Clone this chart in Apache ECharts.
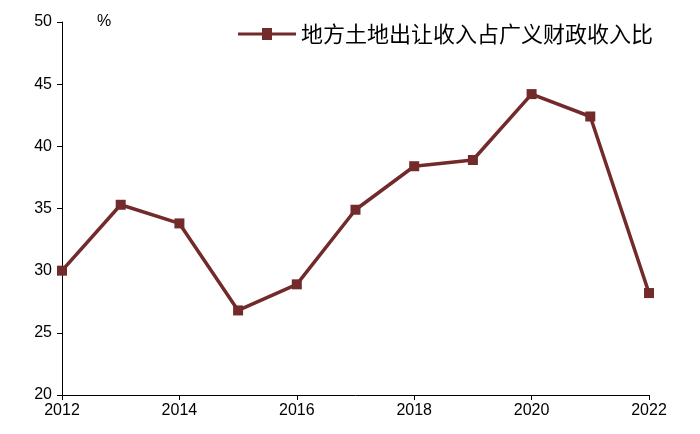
<!DOCTYPE html>
<html><head><meta charset="utf-8">
<script src="https://cdn.jsdelivr.net/npm/echarts@6/dist/echarts.min.js"></script>
<style>html,body{margin:0;padding:0;background:#fff}#c{width:700px;height:434px}</style>
</head><body><div id="c"></div>
<script>
const years = ['2012','2013','2014','2015','2016','2017','2018','2019','2020','2021','2022'];
const ratio = [30.0, 35.3, 33.8, 26.8, 28.9, 34.9, 38.4, 38.9, 44.2, 42.4, 28.2];
const seriesName = '地方土地出让收入占广义财政收入比';
const chart = echarts.init(document.getElementById('c'));
const font = "'Liberation Sans', Arial, sans-serif";
chart.setOption({
  animation: false,
  grid: {left: 62, right: 51, top: 22, bottom: 39},
  legend: {
    top: 18, right: 42, itemWidth: 58, itemHeight: 12, itemGap: 4,
    textStyle: {fontSize: 22, color: '#000', fontFamily: "'Noto Sans CJK SC'"},
    data: [{name: seriesName, icon: 'path://M0,4.5H24V0H34V4.5H58V7.5H34V12H24V7.5H0Z'}]
  },
  graphic: [{type: 'text', left: 97, top: 14, style: {text: '%', fontSize: 16, fill: '#000', fontFamily: font}}],
  xAxis: {
    type: 'category', data: years, boundaryGap: false,
    axisLine: {lineStyle: {color: '#000', width: 1}},
    axisTick: {interval: 1, alignWithLabel: true, lineStyle: {color: '#000'}, length: 5},
    axisLabel: {interval: 1, color: '#000', fontSize: 16, fontFamily: font, margin: 8}
  },
  yAxis: {
    type: 'value', min: 20, max: 50, interval: 5,
    axisLine: {show: true, lineStyle: {color: '#000', width: 1}},
    axisTick: {show: true, lineStyle: {color: '#000'}, length: 5},
    splitLine: {show: false},
    axisLabel: {color: '#000', fontSize: 16, fontFamily: font, margin: 10}
  },
  series: [{
    name: seriesName, type: 'line', data: ratio,
    symbol: 'rect', symbolSize: 10,
    lineStyle: {color: '#722a2a', width: 3.5},
    itemStyle: {color: '#722a2a'}
  }]
});
</script></body></html>
